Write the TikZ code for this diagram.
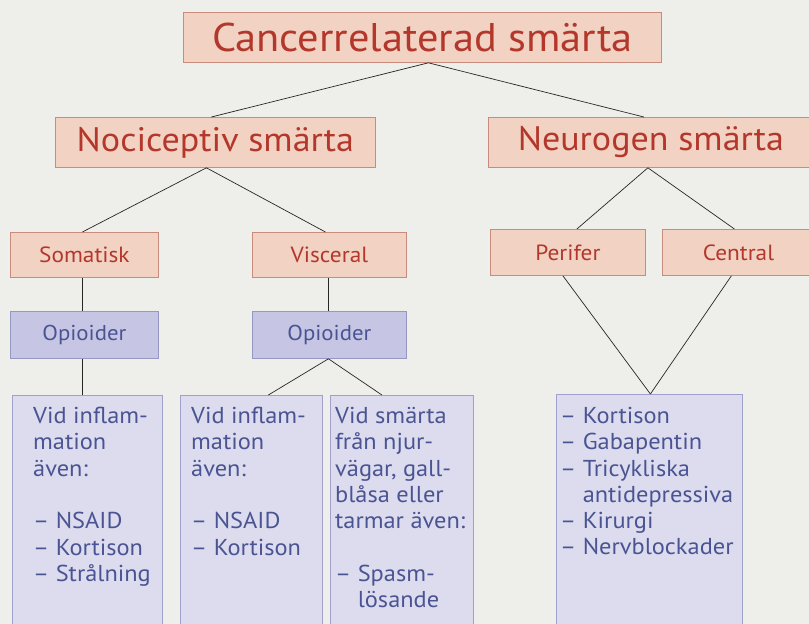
\documentclass[tikz,border=0pt]{standalone}
\usepackage{fontspec}
\setmainfont{PT Sans}[FakeStretch=1.06]
\definecolor{bgc}{HTML}{EEEEEA}
\definecolor{salfill}{HTML}{F1D2C3}
\definecolor{saldraw}{HTML}{C98B7C}
\definecolor{saltext}{HTML}{B4372C}
\definecolor{opfill}{HTML}{C6C6E4}
\definecolor{opdraw}{HTML}{9797C3}
\definecolor{bluetext}{HTML}{4A5493}
\definecolor{botfill}{HTML}{DCDCEE}
\definecolor{botdraw}{HTML}{A0A0CC}
\tikzset{
  salbox/.style={draw=saldraw, fill=salfill, line width=0.8pt, text=saltext, inner sep=0pt, anchor=north west},
  opbox/.style={draw=opdraw, fill=opfill, line width=0.8pt, text=bluetext, inner sep=0pt, anchor=north west, font=\fontsize{21.5}{26}\selectfont},
  botbox/.style={draw=botdraw, fill=botfill, line width=0.8pt, inner sep=0pt, anchor=north west, minimum height=250pt},
  btxt/.style={text=bluetext, inner sep=0pt, anchor=north west, align=left, font=\fontsize{23}{26.3}\selectfont},
  conn/.style={draw=black!85, line width=0.7pt}
}
\begin{document}
\begin{tikzpicture}[x=1pt,y=-1pt]
\path[fill=bgc] (0,0) rectangle (809,624);
\useasboundingbox (0,0) rectangle (809,624);
\begin{scope}
\clip (0,0) rectangle (809,624);
% level 0
\node[salbox, minimum width=478pt, minimum height=50pt, font=\fontsize{40}{44}\selectfont] (top) at (183,12) {Cancerrelaterad smärta};
% level 1
\node[salbox, minimum width=320pt, minimum height=50pt, font=\fontsize{34}{36}\selectfont] (noci) at (55,117) {Nociceptiv smärta};
\node[salbox, minimum width=325pt, minimum height=50pt, font=\fontsize{34}{36}\selectfont] (neuro) at (488,117) {Neurogen smärta};
% level 2
\node[salbox, minimum width=148pt, minimum height=45pt, font=\fontsize{22}{26}\selectfont] (soma) at (10,232) {Somatisk};
\node[salbox, minimum width=154pt, minimum height=45pt, font=\fontsize{22}{26}\selectfont] (visc) at (252,232) {Visceral};
\node[salbox, minimum width=155pt, minimum height=46pt, font=\fontsize{22}{26}\selectfont] (perif) at (490,229) {Perifer};
\node[salbox, minimum width=152pt, minimum height=46pt, font=\fontsize{22}{26}\selectfont] (centr) at (662,229) {Central};
% level 3
\node[opbox, minimum width=148pt, minimum height=47pt] (op1) at (10,311) {Opioider};
\node[opbox, minimum width=154pt, minimum height=47pt] (op2) at (252,311) {Opioider};
% bottom boxes
\node[botbox, minimum width=150pt] (b1) at (12,395) {};
\node[botbox, minimum width=142pt] (b2) at (180,395) {};
\node[botbox, minimum width=143pt] (b3) at (330,395) {};
\node[botbox, minimum width=186pt] (b4) at (556,394) {};
\node[btxt] (t1) at (33,407) {Vid inflam-\\mation\\även:\\[26.3pt]– NSAID\\– Kortison\\– Strålning};
\node[btxt] (t2) at (191,407) {Vid inflam-\\mation\\även:\\[26.3pt]– NSAID\\– Kortison};
\node[btxt] (t3) at (335,407) {Vid smärta\\från njur-\\vägar, gall-\\blåsa eller\\tarmar även:\\[26.3pt]– Spasm-\\\phantom{– }lösande};
\node[btxt] (t4) at (560,407) {– Kortison\\– Gabapentin\\– Tricykliska\\\phantom{– }antidepressiva\\– Kirurgi\\– Nervblockader};
% connectors
\draw[conn] ([xshift=6pt]top.south) -- ([xshift=-4pt]noci.north);
\draw[conn] ([xshift=6pt]top.south) -- ([xshift=-7pt]neuro.north);
\draw[conn] ([xshift=-9pt]noci.south) -- ([xshift=-2pt]soma.north);
\draw[conn] ([xshift=-9pt]noci.south) -- ([xshift=-4pt]visc.north);
\draw[conn] ([xshift=-3pt]neuro.south) -- ([xshift=9pt]perif.north);
\draw[conn] ([xshift=-3pt]neuro.south) -- ([xshift=-4pt]centr.north);
\draw[conn] ([xshift=-2pt]soma.south) -- ([xshift=-2pt]op1.north);
\draw[conn] ([xshift=-1pt]visc.south) -- ([xshift=-1pt]op2.north);
\draw[conn] ([xshift=-2pt]op1.south) -- ([xshift=-2pt]op1.south |- b1.north);
\draw[conn] ([xshift=-1pt]op2.south) -- ([xshift=17pt]b2.north);
\draw[conn] ([xshift=-1pt]op2.south) -- ([xshift=-20pt]b3.north);
\draw[conn] ([xshift=-5pt]perif.south) -- ([xshift=1pt]b4.north);
\draw[conn] ([xshift=-7pt]centr.south) -- ([xshift=1pt]b4.north);
\end{scope}
\end{tikzpicture}
\end{document}
